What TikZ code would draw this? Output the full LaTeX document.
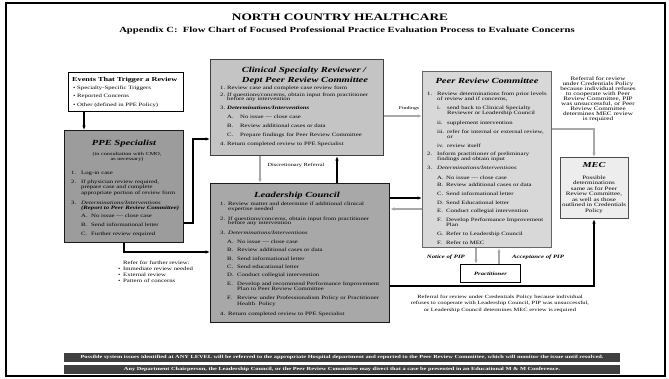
\documentclass[tikz,border=0pt]{standalone}
\usepackage{fontspec}
\setmainfont{Liberation Serif}[FakeStretch=1.35]
\usetikzlibrary{arrows.meta}
\definecolor{ppefill}{HTML}{9C9C9C}
\definecolor{ldfill}{HTML}{A8A8A8}
\definecolor{csfill}{HTML}{C4C4C4}
\definecolor{prfill}{HTML}{D8D8D8}
\definecolor{mecfill}{HTML}{EDEDED}
\definecolor{arrgray}{HTML}{A8A8A8}
\definecolor{bargray}{HTML}{404040}
\newcounter{tlc}
\newcommand\tl[3][]{\stepcounter{tlc}\node[lt,#1] (tl\arabic{tlc}) at (#2) {#3};}
\begin{document}
\begin{tikzpicture}[x=1pt,y=-1pt,
  lt/.style={anchor=base west,inner sep=0pt,font=\fontsize{5}{5}\selectfont},
  ctr/.style={anchor=base},
  lit/.style={font=\fontsize{5}{5}\selectfont\itshape},
  lbi/.style={font=\fontsize{5}{5}\selectfont\bfseries\itshape},
  ttl/.style={anchor=base,inner sep=0pt,font=\fontsize{7.8}{8}\selectfont\bfseries\itshape},
  box/.style={draw,anchor=north west,inner sep=0pt,line width=1.2pt},
  blk/.style={draw=black,line width=1.1pt,-{Latex[length=4.5pt,width=3.6pt]}},
  gry/.style={draw=arrgray,line width=1.1pt,-{Latex[length=4.5pt,width=3.6pt]}},
  lbl/.style={inner sep=0pt,font=\fontsize{4.7}{5}\selectfont},
  pip/.style={inner sep=0pt,font=\fontsize{5}{5}\selectfont\bfseries\itshape},
  bar/.style={fill=bargray,text=white,inner sep=0pt,minimum width=556pt,minimum height=9pt,font=\fontsize{4.7}{5}\selectfont\bfseries}
]
\useasboundingbox (0,0) rectangle (669,378);
\fill[white] (0,0) rectangle (669,378);
\draw[line width=2.6pt] (6,3) rectangle (665,376);

% titles
\node[inner sep=0pt,font=\fontsize{9.9}{10}\selectfont\bfseries] (title) at (340,17) {NORTH COUNTRY HEALTHCARE};
\node[inner sep=0pt,font=\fontsize{7.9}{8}\selectfont\bfseries] (subtitle) at (347,31) {Appendix C:\ \ Flow Chart of Focused Professional Practice Evaluation Process to Evaluate Concerns};

% boxes
\node[box,line width=0.8pt,fill=white,minimum width=115pt,minimum height=39pt] (ev) at (68,72) {};
\node[box,draw=black!90,fill=ppefill,minimum width=119pt,minimum height=112pt] (ppe) at (64,130) {};
\node[box,draw=black!75,fill=csfill,minimum width=173pt,minimum height=96pt] (cs) at (210,59) {};
\node[box,draw=black!90,fill=ldfill,minimum width=179pt,minimum height=139pt] (ld) at (210,183) {};
\node[box,draw=black!60,fill=prfill,minimum width=129pt,minimum height=176pt] (pr) at (422,71) {};
\node[box,draw=black!70,fill=mecfill,minimum width=68pt,minimum height=61pt] (mec) at (560,157) {};
\node[box,line width=1pt,fill=white,minimum width=60pt,minimum height=18pt,font=\fontsize{4.9}{5}\selectfont\bfseries\itshape] (pt) at (460,264) {Practitioner};

% events text
\tl[font=\fontsize{6.1}{6}\selectfont\bfseries]{72,81}{Events That Trigger a Review}
\tl{73,89.3}{•}\tl{77,89.3}{Specialty-Specific Triggers}
\tl{73,97.7}{•}\tl{77,97.7}{Reported Concerns}
\tl{73,106}{•}\tl{77,106}{Other (defined in PPE Policy)}

% PPE text
\tl[ttl]{124,145.5}{PPE Specialist}
\tl[ctr,font=\fontsize{4.6}{5}\selectfont]{127,155}{(in consultation with CMO,}
\tl[ctr,font=\fontsize{4.6}{5}\selectfont]{127,160}{as necessary)}
\tl{71,174}{1.}\tl{81,174}{Log-in case}
\tl{71,183}{2.}\tl{81,183}{If physician review required,}
\tl{81,188}{prepare case and complete}
\tl{81,194}{appropriate portion of review form}
\tl{71,204}{3.}\tl[lit]{81,204}{Determinations\slash Interventions}
\tl[lbi]{81,209}{(Report to Peer Review Committee)}
\tl{81,217}{A.}\tl{91,217}{No issue — close case}
\tl{81,226}{B.}\tl{91,226}{Send informational letter}
\tl{81,235}{C.}\tl{91,235}{Further review required}

% refer text
\tl{123,264}{Refer for further review:}
\tl{118,270}{•}\tl{123,270}{Immediate review needed}
\tl{118,276}{•}\tl{123,276}{External review}
\tl{118,282}{•}\tl{123,282}{Pattern of concerns}

% clinical text
\tl[ttl]{304,72}{Clinical Specialty Reviewer /}
\tl[ttl]{305,82}{Dept Peer Review Committee}
\tl{220,89}{1.}\tl{227,89}{Review case and complete case review form}
\tl{220,96}{2.}\tl{227,96}{If questions\slash concerns, obtain input from practitioner}
\tl{227,100.5}{before any intervention}
\tl{220,109}{3.}\tl[lbi]{227,109}{Determinations\slash Interventions}
\tl{227,118}{A.}\tl{240,118}{No issue — close case}
\tl{227,127}{B.}\tl{240,127}{Review additional cases or data}
\tl{227,136}{C.}\tl{240,136}{Prepare findings for Peer Review Committee}
\tl{220,145}{4.}\tl{227,145}{Return completed review to PPE Specialist}

% leadership text
\tl[ttl]{297,197.5}{Leadership Council}
\tl{220,205}{1.}\tl{228,205}{Review matter and determine if additional clinical}
\tl{228,210}{expertise needed}
\tl{220,220}{2.}\tl{228,220}{If questions\slash concerns, obtain input from practitioner}
\tl{228,224.5}{before any intervention}
\tl{220,234}{3.}\tl[lit]{228,234}{Determinations\slash Interventions}
\tl{227,243}{A.}\tl{237,243}{No issue — close case}
\tl{227,251}{B.}\tl{237,251}{Review additional cases or data}
\tl{227,260}{B.}\tl{237,260}{Send informational letter}
\tl{227,268}{C.}\tl{237,268}{Send educational letter}
\tl{227,276}{D.}\tl{237,276}{Conduct collegial intervention}
\tl{227,285}{E.}\tl{237,285}{Develop and recommend Performance Improvement}
\tl{237,290}{Plan to Peer Review Committee}
\tl{227,299}{F.}\tl{237,299}{Review under Professionalism Policy or Practitioner}
\tl{237,305}{Health\ \ Policy}
\tl{220,315}{4.}\tl{228,315}{Return completed review to PPE Specialist}

% peer review text
\tl[ttl]{487,83.5}{Peer Review Committee}
\tl{427,95}{1.}\tl{437,95}{Review determinations from prior levels}
\tl{437,100}{of review and if concerns,}
\tl{437,109}{i.}\tl{447,109}{send back to Clinical Specialty}
\tl{447,114}{Reviewer or Leadership Council}
\tl{437,124}{ii.}\tl{447,124}{supplement intervention}
\tl{437,133}{iii.}\tl{447,133}{refer for internal or external review,}
\tl{447,138}{or}
\tl{437,147}{iv.}\tl{447,147}{review itself}
\tl{427,155}{2.}\tl{437,155}{Inform practitioner of preliminary}
\tl{437,160}{findings and obtain input}
\tl{427,169}{3.}\tl[lit]{437,169}{Determinations\slash Interventions}
\tl{437,179}{A.}\tl{446,179}{No issue — close case}
\tl{437,186}{B.}\tl{446,186}{Review additional cases or data}
\tl{437,195}{C.}\tl{446,195}{Send informational letter}
\tl{437,204}{D.}\tl{446,204}{Send Educational letter}
\tl{437,212}{E.}\tl{446,212}{Conduct collegial intervention}
\tl{437,221}{F.}\tl{446,221}{Develop Performance Improvement}
\tl{446,226}{Plan}
\tl{437,235}{G.}\tl{446,235}{Refer to Leadership Council}
\tl{437,244}{F.}\tl{446,244}{Refer to MEC}

% MEC text
\tl[ttl,font=\fontsize{7.6}{8}\selectfont\bfseries\itshape]{594,167}{MEC}
\foreach \t [count=\i] in {Possible,determinations,same as for Peer,{Review Committee,},as well as those,outlined in Credentials,Policy}
  \node[anchor=base,inner sep=0pt,font=\fontsize{5.2}{5}\selectfont] (mt\i) at (594,173.5+5.5*\i) {\t};

% top-right referral text
\foreach \t [count=\i] in {Referral for review,under Credentials Policy,because individual refuses,to cooperate with Peer,{Review Committee, PIP},{was unsuccessful, or Peer},Review Committee,determines MEC review,is required}
  \node[anchor=base,inner sep=0pt,font=\fontsize{5.3}{5}\selectfont] (rt\i) at (598,76+4.9*\i) {\t};

% bottom referral text
\foreach \t [count=\i] in {Referral for review under Credentials Policy because individual,{refuses to cooperate with Leadership Council, PIP was unsuccessful,},or Leadership Council determines MEC review is required}
  \node[anchor=base,inner sep=0pt,font=\fontsize{4.8}{5}\selectfont] (bt\i) at (500,291.5+6.6*\i) {\t};

% connectors
\coordinate (h12) at (84,0);
\draw[blk] (ev.south -| h12) -- (ppe.north -| h12);
\coordinate (h1) at (193,139);
\coordinate (h1b) at (193,223);
\draw[blk] (ppe.east |- h1b) -- (h1b) -- (h1) -- (cs.west |- h1);
\coordinate (h2) at (124,252);
\draw[blk] (ppe.south -| h2) -- (h2) -- (ld.west |- h2);
\coordinate (h3) at (260,0);
\coordinate (h4) at (337,0);
\draw[gry] (cs.south -| h3) -- (ld.north -| h3);
\draw[blk] (ld.north -| h4) -- (cs.south -| h4);
\node[lbl] (dr) at (296,165) {Discretionary Referral};
\coordinate (h5) at (0,116);
\draw[gry] (cs.east |- h5) -- (pr.west |- h5);
\node[lbl,font=\fontsize{4.3}{5}\selectfont] (fd) at (409,108) {Findings};
\coordinate (h6) at (0,198);
\coordinate (h7) at (0,209);
\draw[blk] (ld.east |- h6) -- (pr.west |- h6);
\draw[gry] (pr.west |- h7) -- (ld.east |- h7);
\coordinate (h8) at (594,286);
\draw[blk] (ld.east |- h8) -- (h8) -- (mec.south -| h8);
\coordinate (h9) at (594,129);
\draw[gry] (pr.east |- h9) -- (h9) -- (mec.north -| h9);
\coordinate (h10) at (476,0);
\coordinate (h11) at (499,0);
\draw[gry] (pr.south -| h10) -- (pt.north -| h10);
\draw[gry] (pt.north -| h11) -- (pr.south -| h11);
\node[pip,anchor=base east] (np) at (465,258) {Notice of PIP};
\node[pip,anchor=base west] (ap) at (512,258) {Acceptance of PIP};

% bottom bars
\node[bar] (bar1) at (342,357) {Possible system issues identified at ANY LEVEL will be referred to the appropriate Hospital department and reported to the Peer Review Committee, which will monitor the issue until resolved.};
\node[bar] (bar2) at (342,369) {Any Department Chairperson, the Leadership Council, or the Peer Review Committee may direct that a case be presented in an Educational M \& M Conference.};
\end{tikzpicture}
\end{document}
